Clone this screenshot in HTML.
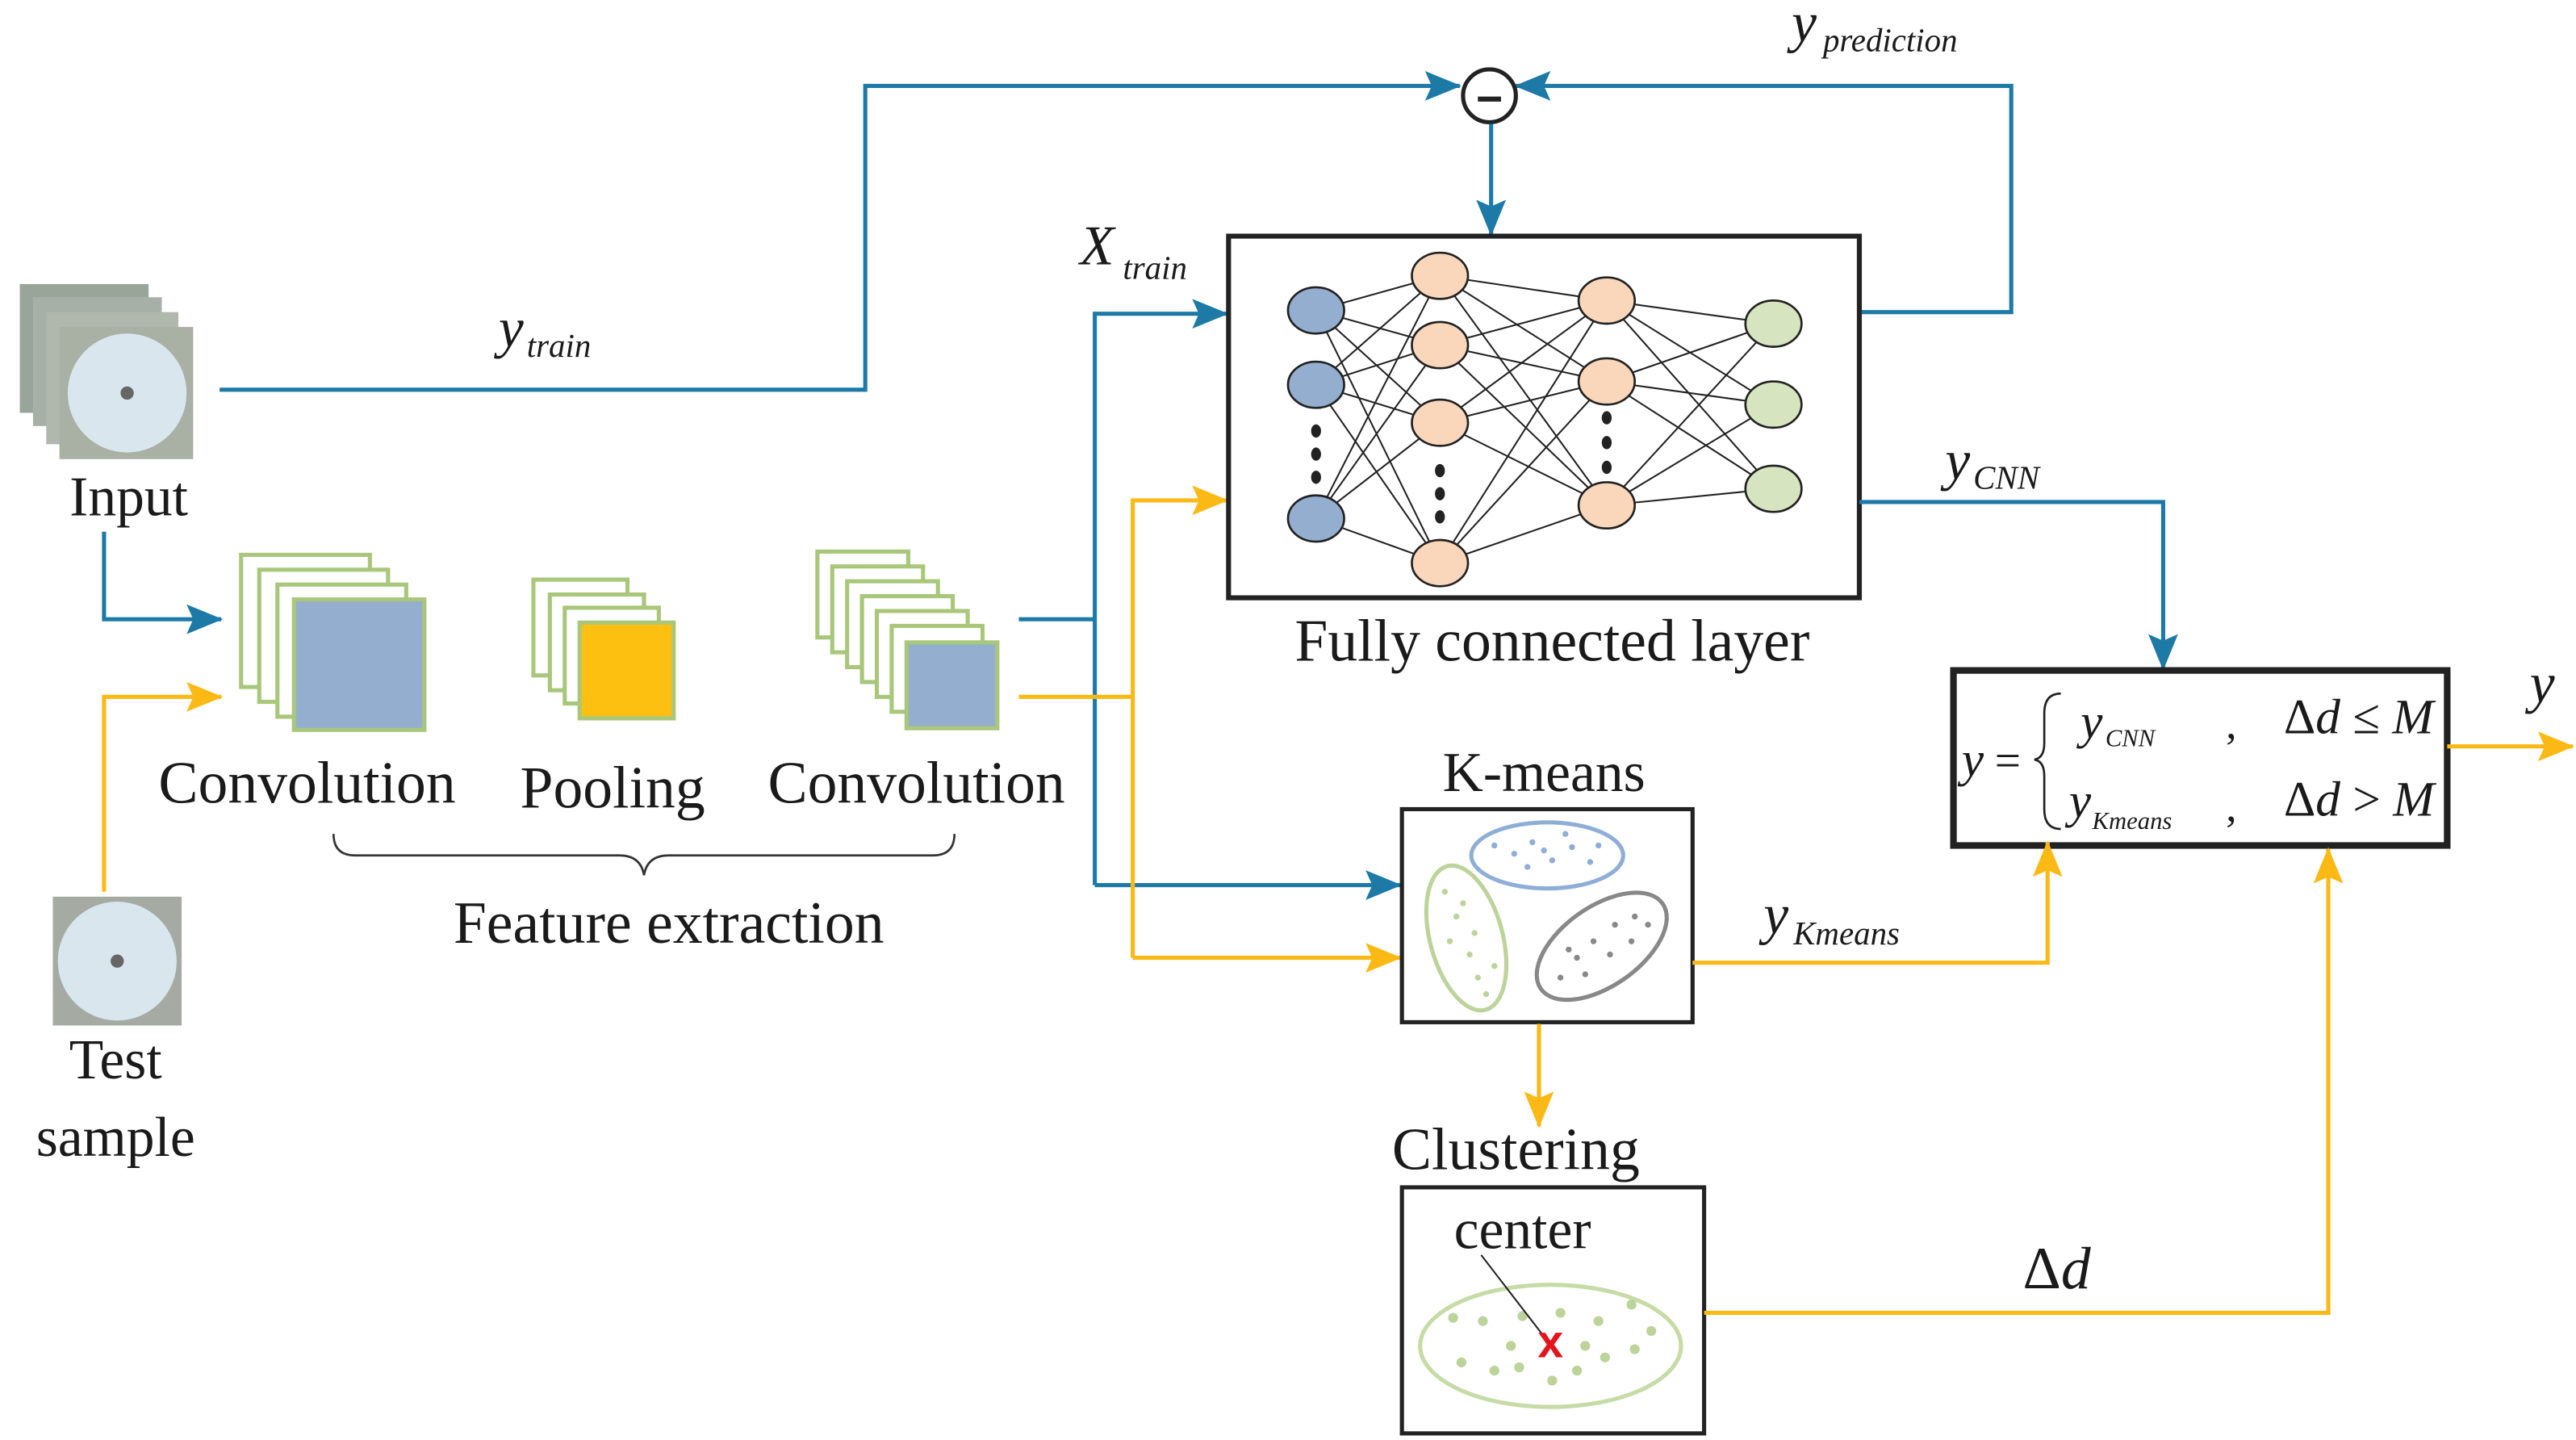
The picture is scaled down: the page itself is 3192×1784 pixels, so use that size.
<!DOCTYPE html>
<html><head><meta charset="utf-8"><style>html,body{margin:0;padding:0;background:#fff}svg{display:block}text{font-family:"Liberation Serif",serif;fill:#1a1a1a}</style></head><body>
<svg width="3192" height="1784" viewBox="0 0 1560 872" preserveAspectRatio="none" xmlns="http://www.w3.org/2000/svg">
<defs>
<marker id="ab" markerWidth="22" markerHeight="18" refX="21" refY="9" orient="auto" markerUnits="userSpaceOnUse" viewBox="0 0 22 18"><path d="M0,0 L22,9 L0,18 L4,9 z" fill="#1d7aa7"/></marker>
<marker id="ay" markerWidth="22" markerHeight="18" refX="21" refY="9" orient="auto" markerUnits="userSpaceOnUse" viewBox="0 0 22 18"><path d="M0,0 L22,9 L0,18 L4,9 z" fill="#fbb916"/></marker>
</defs>
<style>.b{stroke:#1d7aa7;stroke-width:2.5;fill:none}.y{stroke:#fbb916;stroke-width:2.5;fill:none}.nn line{stroke:#222;stroke-width:1}</style>
<g>
<rect x="12" y="172" width="78" height="78" fill="#9aa59a"/>
<rect x="20" y="180" width="78" height="78" fill="#a7b0a6"/>
<rect x="28" y="189" width="80" height="80" fill="#b0b8ae"/>
<rect x="36" y="198" width="81" height="80" fill="#a9b0a4"/>
<circle cx="77" cy="238" r="36" fill="#d9e6ee"/><circle cx="77" cy="238" r="4" fill="#666"/>
<rect x="32" y="543" width="78" height="78" fill="#a5aaa2"/>
<circle cx="71" cy="582" r="36" fill="#d9e6ee"/><circle cx="71" cy="582" r="4" fill="#666"/>
</g>
<text x="78" y="312" font-size="34" text-anchor="middle">Input</text>
<text x="70" y="653" font-size="34" text-anchor="middle">Test</text>
<text x="70" y="700" font-size="34" text-anchor="middle">sample</text>
<polyline class="b" points="133,236 524,236 524,52 884,52" marker-end="url(#ab)"/>
<polyline class="b" points="1126,189 1218,189 1218,52 918,52" marker-end="url(#ab)"/>
<circle cx="902" cy="58" r="16" fill="#fff" stroke="#222" stroke-width="2.5"/>
<line x1="895" y1="60" x2="909" y2="60" stroke="#222" stroke-width="3"/>
<line class="b" x1="903" y1="75" x2="903" y2="142" marker-end="url(#ab)"/>
<text x="1085" y="25" font-size="34" font-style="italic">y</text><text x="1104" y="31" font-size="20" font-style="italic">prediction</text>
<text x="302" y="210" font-size="34" font-style="italic">y</text><text x="319" y="216" font-size="20" font-style="italic">train</text>
<polyline class="b" points="63,322 63,375 134,375" marker-end="url(#ab)"/>
<polyline class="y" points="63,540 63,422 134,422" marker-end="url(#ay)"/>
<g fill="#fff" stroke="#a9c77a" stroke-width="2.5">
<rect x="146" y="336" width="78" height="80"/><rect x="157" y="345" width="78" height="80"/><rect x="168" y="354" width="78" height="80"/>
<rect x="178" y="363" width="79" height="79" fill="#94aecf"/>
<rect x="323" y="351" width="57" height="58"/><rect x="333" y="360" width="57" height="58"/><rect x="342" y="368" width="57" height="58"/>
<rect x="351" y="377" width="57" height="58" fill="#fdbf10"/>
<rect x="495" y="334" width="55" height="52"/><rect x="504" y="343" width="55" height="52"/><rect x="513" y="352" width="55" height="52"/><rect x="522" y="361" width="55" height="52"/><rect x="531" y="370" width="55" height="52"/><rect x="540" y="379" width="55" height="52"/>
<rect x="549" y="389" width="55" height="52" fill="#94aecf"/>
</g>
<text x="186" y="486" font-size="36" text-anchor="middle">Convolution</text>
<text x="371" y="489" font-size="36" text-anchor="middle">Pooling</text>
<text x="555" y="486" font-size="36" text-anchor="middle">Convolution</text>
<path d="M202,505 Q202,518 215,518 L375,518 Q388,518 390,530 Q392,518 405,518 L565,518 Q578,518 578,505" fill="none" stroke="#333" stroke-width="1.3"/>
<text x="405" y="571" font-size="36" text-anchor="middle">Feature extraction</text>
<polyline class="b" points="617,375 663,375"/>
<polyline class="b" points="663,536 663,190 743,190" marker-end="url(#ab)"/>
<polyline class="b" points="663,536 848,536" marker-end="url(#ab)"/>
<polyline class="y" points="617,422 686,422"/>
<polyline class="y" points="686,580 686,303 743,303" marker-end="url(#ay)"/>
<polyline class="y" points="686,580 848,580" marker-end="url(#ay)"/>
<text x="654" y="160" font-size="34" font-style="italic">X</text><text x="680" y="169" font-size="20" font-style="italic">train</text>
<rect x="744" y="143" width="382" height="219" fill="#fff" stroke="#222" stroke-width="3"/>
<g class="nn">
<line x1="797" y1="188" x2="872" y2="167"/><line x1="797" y1="188" x2="872" y2="209"/><line x1="797" y1="188" x2="872" y2="256"/><line x1="797" y1="188" x2="872" y2="341"/>
<line x1="797" y1="233" x2="872" y2="167"/><line x1="797" y1="233" x2="872" y2="209"/><line x1="797" y1="233" x2="872" y2="256"/><line x1="797" y1="233" x2="872" y2="341"/>
<line x1="797" y1="314" x2="872" y2="167"/><line x1="797" y1="314" x2="872" y2="209"/><line x1="797" y1="314" x2="872" y2="256"/><line x1="797" y1="314" x2="872" y2="341"/>
<line x1="872" y1="167" x2="973" y2="182"/><line x1="872" y1="167" x2="973" y2="231"/><line x1="872" y1="167" x2="973" y2="306"/>
<line x1="872" y1="209" x2="973" y2="182"/><line x1="872" y1="209" x2="973" y2="231"/><line x1="872" y1="209" x2="973" y2="306"/>
<line x1="872" y1="256" x2="973" y2="182"/><line x1="872" y1="256" x2="973" y2="231"/><line x1="872" y1="256" x2="973" y2="306"/>
<line x1="872" y1="341" x2="973" y2="182"/><line x1="872" y1="341" x2="973" y2="231"/><line x1="872" y1="341" x2="973" y2="306"/>
<line x1="973" y1="182" x2="1074" y2="196"/><line x1="973" y1="182" x2="1074" y2="245"/><line x1="973" y1="182" x2="1074" y2="296"/>
<line x1="973" y1="231" x2="1074" y2="196"/><line x1="973" y1="231" x2="1074" y2="245"/><line x1="973" y1="231" x2="1074" y2="296"/>
<line x1="973" y1="306" x2="1074" y2="196"/><line x1="973" y1="306" x2="1074" y2="245"/><line x1="973" y1="306" x2="1074" y2="296"/>
</g>
<g stroke="#222" stroke-width="1.3">
<ellipse cx="797" cy="188" rx="17" ry="14" fill="#94aecf"/><ellipse cx="797" cy="233" rx="17" ry="14" fill="#94aecf"/><ellipse cx="797" cy="314" rx="17" ry="14" fill="#94aecf"/>
<ellipse cx="872" cy="167" rx="17" ry="14" fill="#fad7bb"/><ellipse cx="872" cy="209" rx="17" ry="14" fill="#fad7bb"/><ellipse cx="872" cy="256" rx="17" ry="14" fill="#fad7bb"/><ellipse cx="872" cy="341" rx="17" ry="14" fill="#fad7bb"/>
<ellipse cx="973" cy="182" rx="17" ry="14" fill="#fad7bb"/><ellipse cx="973" cy="231" rx="17" ry="14" fill="#fad7bb"/><ellipse cx="973" cy="306" rx="17" ry="14" fill="#fad7bb"/>
<ellipse cx="1074" cy="196" rx="17" ry="14" fill="#d6e4c0"/><ellipse cx="1074" cy="245" rx="17" ry="14" fill="#d6e4c0"/><ellipse cx="1074" cy="296" rx="17" ry="14" fill="#d6e4c0"/>
</g>
<g fill="#222">
<ellipse cx="797" cy="261" rx="3" ry="4"/><ellipse cx="797" cy="275" rx="3" ry="4"/><ellipse cx="797" cy="289" rx="3" ry="4"/>
<ellipse cx="872" cy="285" rx="3" ry="4"/><ellipse cx="872" cy="299" rx="3" ry="4"/><ellipse cx="872" cy="313" rx="3" ry="4"/>
<ellipse cx="973" cy="253" rx="3" ry="4"/><ellipse cx="973" cy="268" rx="3" ry="4"/><ellipse cx="973" cy="283" rx="3" ry="4"/>
</g>
<text x="940" y="400" font-size="36" text-anchor="middle">Fully connected layer</text>
<polyline class="b" points="1126,304 1310,304 1310,405" marker-end="url(#ab)"/>
<text x="1178" y="290" font-size="34" font-style="italic">y</text><text x="1195" y="296" font-size="20" font-style="italic">CNN</text>
<rect x="1183" y="406" width="299" height="106" fill="#fff" stroke="#222" stroke-width="4"/>
<text x="1188" y="470" font-size="30" font-style="italic">y</text><text x="1208" y="470" font-size="28">=</text>
<path d="M1248,420 Q1238,420 1238,432 L1238,450 Q1238,459 1232,460 Q1238,461 1238,470 L1238,490 Q1238,502 1248,502" fill="none" stroke="#222" stroke-width="1.3"/>
<text x="1260" y="447" font-size="30" font-style="italic">y</text><text x="1275" y="452" font-size="15" font-style="italic">CNN</text>
<text x="1348" y="447" font-size="26">,</text>
<text x="1383" y="444" font-size="30">Δ<tspan font-style="italic">d</tspan> ≤ <tspan font-style="italic">M</tspan></text>
<text x="1253" y="495" font-size="30" font-style="italic">y</text><text x="1267" y="502" font-size="15" font-style="italic">Kmeans</text>
<text x="1348" y="497" font-size="26">,</text>
<text x="1383" y="494" font-size="30">Δ<tspan font-style="italic">d</tspan> &gt; <tspan font-style="italic">M</tspan></text>
<line class="y" x1="1482" y1="452" x2="1558" y2="452" marker-end="url(#ay)"/>
<text x="1532" y="425" font-size="34" font-style="italic">y</text>
<text x="935" y="479" font-size="34" text-anchor="middle">K-means</text>
<rect x="849" y="490" width="176" height="129" fill="#fff" stroke="#222" stroke-width="2.5"/>
<ellipse cx="937" cy="518" rx="46" ry="20" fill="none" stroke="#8eaed8" stroke-width="2.5"/>
<ellipse cx="888" cy="568" rx="22" ry="45" transform="rotate(-15 888 568)" fill="none" stroke="#bcd39a" stroke-width="2.5"/>
<ellipse cx="970" cy="573" rx="45" ry="24" transform="rotate(-35 970 573)" fill="none" stroke="#888" stroke-width="2.5"/>
<g fill="#8eaed8"><circle cx="905" cy="512" r="1.8"/><circle cx="917" cy="517" r="1.8"/><circle cx="928" cy="510" r="1.8"/><circle cx="940" cy="521" r="1.8"/><circle cx="952" cy="513" r="1.8"/><circle cx="963" cy="522" r="1.8"/><circle cx="925" cy="525" r="1.8"/><circle cx="948" cy="505" r="1.8"/><circle cx="968" cy="512" r="1.8"/><circle cx="935" cy="515" r="1.8"/></g>
<g fill="#bcd39a"><circle cx="875" cy="540" r="1.8"/><circle cx="882" cy="555" r="1.8"/><circle cx="878" cy="570" r="1.8"/><circle cx="890" cy="578" r="1.8"/><circle cx="895" cy="592" r="1.8"/><circle cx="900" cy="602" r="1.8"/><circle cx="886" cy="547" r="1.8"/><circle cx="893" cy="565" r="1.8"/><circle cx="905" cy="585" r="1.8"/></g>
<g fill="#888"><circle cx="945" cy="592" r="1.8"/><circle cx="955" cy="580" r="1.8"/><circle cx="965" cy="570" r="1.8"/><circle cx="978" cy="560" r="1.8"/><circle cx="990" cy="555" r="1.8"/><circle cx="960" cy="590" r="1.8"/><circle cx="975" cy="578" r="1.8"/><circle cx="988" cy="570" r="1.8"/><circle cx="998" cy="560" r="1.8"/><circle cx="950" cy="575" r="1.8"/></g>
<polyline class="y" points="1025,583 1240,583 1240,510" marker-end="url(#ay)"/>
<text x="1068" y="565" font-size="34" font-style="italic">y</text><text x="1086" y="572" font-size="20" font-style="italic">Kmeans</text>
<line class="y" x1="932" y1="620" x2="932" y2="682" marker-end="url(#ay)"/>
<text x="918" y="708" font-size="36" text-anchor="middle">Clustering</text>
<rect x="849" y="719" width="183" height="149" fill="#fff" stroke="#222" stroke-width="2.5"/>
<text x="922" y="756" font-size="34" text-anchor="middle">center</text>
<ellipse cx="939" cy="815" rx="79" ry="37" fill="none" stroke="#c6dba6" stroke-width="2.5"/>
<g fill="#bcd39a"><circle cx="880" cy="798" r="3"/><circle cx="898" cy="800" r="3"/><circle cx="922" cy="797" r="3"/><circle cx="945" cy="795" r="3"/><circle cx="968" cy="800" r="3"/><circle cx="988" cy="790" r="3"/><circle cx="1000" cy="806" r="3"/><circle cx="990" cy="817" r="3"/><circle cx="972" cy="822" r="3"/><circle cx="955" cy="830" r="3"/><circle cx="940" cy="836" r="3"/><circle cx="920" cy="828" r="3"/><circle cx="905" cy="830" r="3"/><circle cx="885" cy="825" r="3"/><circle cx="960" cy="815" r="3"/><circle cx="915" cy="815" r="3"/></g>
<line x1="897" y1="760" x2="934" y2="808" stroke="#222" stroke-width="1"/>
<text x="939" y="822" font-size="28" font-weight="bold" text-anchor="middle" style="fill:#e3141c;font-family:'Liberation Sans',sans-serif">x</text>
<polyline class="y" points="1032,795 1410,795 1410,514" marker-end="url(#ay)"/>
<text x="1225" y="780" font-size="36">Δ<tspan font-style="italic">d</tspan></text>
</svg>
</body></html>
